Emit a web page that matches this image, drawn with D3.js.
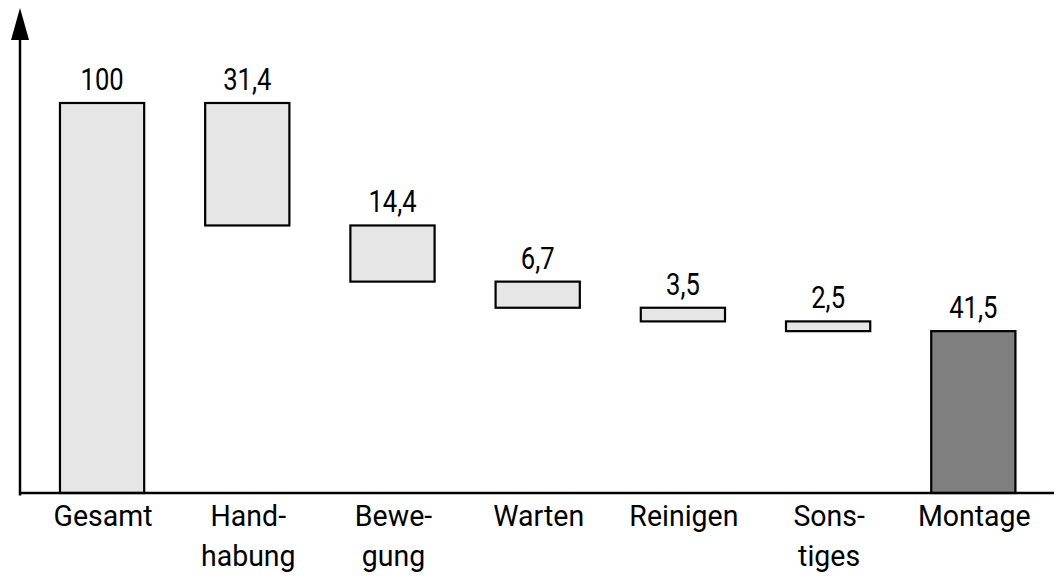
<!DOCTYPE html>
<html>
<head>
<meta charset="utf-8">
<script src="https://cdn.jsdelivr.net/npm/d3@7"></script>
<style>
  body { margin: 0; background: #fff; }
  text { font-family: Roboto, "Liberation Sans", sans-serif; fill: #000; }
</style>
</head>
<body>
<div id="chart"></div>
<script>
// waterfall: Gesamt -> Einzelanteile -> Montage
const categories = [["Gesamt"], ["Hand-", "habung"], ["Bewe-", "gung"], ["Warten"], ["Reinigen"], ["Sons-", "tiges"], ["Montage"]]
const values = [100, 31.4, 14.4, 6.7, 3.5, 2.5, 41.5]
const kinds = ["total", "step", "step", "step", "step", "step", "total"]
const valueLabels = ["100", "31,4", "14,4", "6,7", "3,5", "2,5", "41,5"]

const width = 1057, height = 583
const margins = { l: 20, b: 90, t: 103 }

// running start/end per bar
let level = values[0]
const bars = values.map((v, i) => {
  if (kinds[i] === "total") {
    if (i === 0) level = v
    return { i, y0: 0, y1: v }
  }
  const b = { i, y0: level - v, y1: level }
  level -= v
  return b
})

const svg = d3.select("#chart").append("svg").attr("width", width).attr("height", height)

const xScale = d3.scaleBand()
  .domain(d3.range(categories.length))
  .range([16.4, 1059])
  .paddingInner(0.42)
  .paddingOuter(0.3)

const yScale = d3.scaleLinear().domain([0, 100]).range([height - margins.b, margins.t])

const cx = i => xScale(i) + xScale.bandwidth() / 2

// bars
svg.selectAll(".bar")
  .data(bars)
  .join("rect")
  .attr("class", "bar")
  .attr("x", d => xScale(d.i))
  .attr("width", xScale.bandwidth())
  .attr("y", d => yScale(d.y1))
  .attr("height", d => yScale(d.y0) - yScale(d.y1))
  .attr("fill", d => d.i === values.length - 1 ? "#808080" : "#e6e6e6")
  .attr("stroke", "#000")
  .attr("stroke-width", 2.2)

// value labels (condensed look via horizontal scale)
svg.selectAll(".val")
  .data(bars)
  .join("text")
  .attr("class", "val")
  .attr("transform", d => `translate(${cx(d.i)},${yScale(d.y1) - 13}) scale(0.8,1)`)
  .attr("text-anchor", "middle")
  .attr("font-size", 32)
  .text(d => valueLabels[d.i])

// axes
const x0 = 20, yBase = yScale(0)
svg.append("line").attr("x1", x0).attr("x2", x0).attr("y1", 38).attr("y2", yBase + 2.5)
  .attr("stroke", "#000").attr("stroke-width", 2.5)
svg.append("path").attr("d", `M${x0},8L${x0 + 9},40L${x0 - 9},40Z`).attr("fill", "#000")
svg.append("line").attr("x1", x0 - 1).attr("x2", 1054).attr("y1", yBase).attr("y2", yBase)
  .attr("stroke", "#000").attr("stroke-width", 2.5)

// category labels
const catg = svg.selectAll(".cat")
  .data(categories)
  .join("text")
  .attr("class", "cat")
  .attr("text-anchor", "middle")
  .attr("font-size", 30)
  .attr("transform", (d, i) => `translate(${cx(i) + 1},${yBase + 33}) scale(0.95,1)`)

catg.selectAll("tspan")
  .data(d => d)
  .join("tspan")
  .attr("x", 0)
  .attr("dy", (d, j) => j === 0 ? 0 : 40)
  .text(d => d)
</script>
</body>
</html>
